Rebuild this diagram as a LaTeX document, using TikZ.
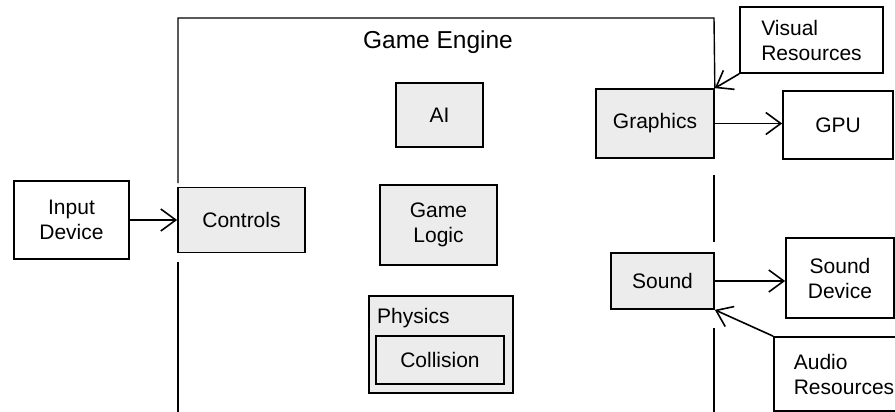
\documentclass[tikz,border=0pt]{standalone}
\usepackage{fontspec}
\setmainfont{Liberation Sans}
\usetikzlibrary{arrows.meta}
\definecolor{boxgray}{RGB}{236,236,236}
\tikzset{
  box/.style={draw=black, line width=1.7pt, fill=white, inner sep=0pt,
    align=center, font=\fontsize{21}{25}\selectfont},
  gbox/.style={box, fill=boxgray},
  frame/.style={draw=black, line width=1.4pt},
  arr/.style={draw=black, line width=1.6pt,
    -{Straight Barb[length=15pt,width=22pt,line width=1.6pt]}},
  title/.style={font=\fontsize{24.5}{28}\selectfont, inner sep=0pt},
}
\begin{document}
\begin{tikzpicture}[x=1pt,y=-1pt]
  \useasboundingbox (0,0) rectangle (895,412);
  \clip (0,0) rectangle (895,412);
  \fill[white] (0,0) rectangle (895,412);

  % engine components
  \node[gbox, minimum width=87pt, minimum height=64pt] (ai) at (439.5,115) {AI};
  \node[gbox, minimum width=117pt, minimum height=80pt] (logic) at (438.5,225) {Game\\Logic};
  \node[gbox, minimum width=144pt, minimum height=97pt] (physics) at (441,344.5) {};
  \node[gbox, minimum width=128pt, minimum height=48pt] (collision) at (440,360) {Collision};
  \node[anchor=west, inner sep=0pt, font=\fontsize{21}{25}\selectfont] (physlabel) at (377,318) {Physics};

  % boxes on the engine border
  \node[gbox, minimum width=127pt, minimum height=65pt] (controls) at (241.5,220) {Controls};
  \node[gbox, minimum width=118pt, minimum height=69pt] (graphics) at (655,123.5) {Graphics};
  \node[gbox, minimum width=103pt, minimum height=56pt] (sound) at (662.5,281) {Sound};

  % engine frame, broken beside the border boxes
  \coordinate (fLtop) at (178,183);
  \coordinate (fTL) at (178,18);
  \coordinate (fTR) at (714,18);
  \coordinate (fLbot) at (178,262);
  \coordinate (fLend) at (178,420);
  \coordinate (fRa) at (714,175);
  \coordinate (fRb) at (714,242);
  \coordinate (fRc) at (714,328);
  \coordinate (fRend) at (714,420);
  \draw[frame] (fLtop) -- (fTL) -- (fTR) -- (graphics.north east);
  \draw[frame] (fLbot) -- (fLend);
  \draw[frame] (fRa) -- (fRb);
  \draw[frame] (fRc) -- (fRend);
  \node[title] (engine) at (438,42) {Game Engine};

  % external devices and resources
  \node[box, minimum width=115pt, minimum height=78pt] (input) at (71.5,220) {Input\\Device};
  \node[box, minimum width=110pt, minimum height=68pt] (gpu) at (838,125) {GPU};
  \node[box, minimum width=143pt, minimum height=66pt, align=left] (visual) at (811.5,40) {Visual\\Resources};
  \node[box, minimum width=108pt, minimum height=80pt] (sounddev) at (840,278) {Sound\\Device};
  \node[box, minimum width=140pt, minimum height=74pt, align=left] (audio) at (844,374) {Audio\\Resources};

  % connectors
  \draw[arr] (input) -- (controls);
  \draw[arr] (graphics.east) -- (graphics.east -| gpu.west);
  \draw[arr] (visual.south west) -- (graphics.north east);
  \draw[arr] (sound.east) -- (sound.east -| sounddev.west);
  \draw[arr] (audio.north west) -- (sound.south east);
\end{tikzpicture}
\end{document}
